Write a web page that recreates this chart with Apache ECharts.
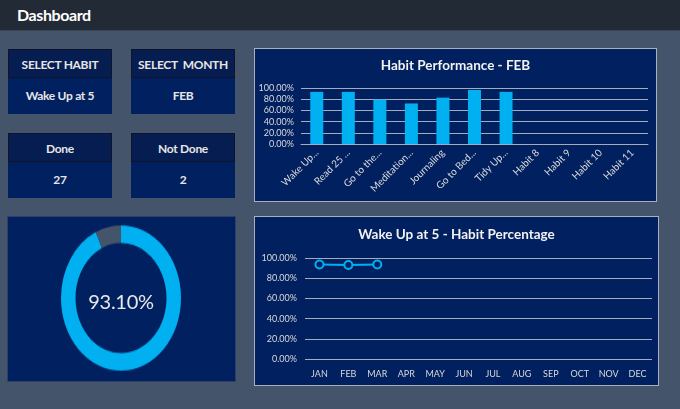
<!DOCTYPE html>
<html><head><meta charset="utf-8">
<script src="https://cdn.jsdelivr.net/npm/echarts@6/dist/echarts.min.js"></script>
<style>
html,body{margin:0;padding:0;width:680px;height:409px;overflow:hidden;background:#44546A;font-family:Lato,"Open Sans",sans-serif;}
#top{position:absolute;left:0;top:0;width:680px;height:30px;background:#222A35;border-bottom:1px solid #3a4556;}
#top span{position:absolute;left:17px;top:5px;color:#fff;font-weight:bold;font-size:16px;letter-spacing:-0.4px;}
.box{position:absolute;width:104px;background:#002060;}
.box .h{height:29px;line-height:29px;background:#061D52;border:1px solid #10142a;text-align:center;color:#E6E6E6;font-weight:bold;font-size:12px;letter-spacing:-0.3px;box-sizing:border-box;}
.box .v{height:36px;line-height:36px;text-align:center;color:#E6E6E6;font-weight:bold;font-size:12px;letter-spacing:-0.3px;}
.panel{position:absolute;background:#002060;box-sizing:border-box;}
</style></head><body>
<div id="top"><span>Dashboard</span></div>
<div class="box" style="left:8px;top:49px;"><div class="h">SELECT HABIT</div><div class="v" id="vHabit"></div></div>
<div class="box" style="left:131px;top:49px;"><div class="h">SELECT &nbsp;MONTH</div><div class="v" id="vMonth"></div></div>
<div class="box" style="left:8px;top:133px;"><div class="h">Done</div><div class="v" id="vDone"></div></div>
<div class="box" style="left:131px;top:133px;"><div class="h">Not Done</div><div class="v" id="vNot"></div></div>
<div class="panel" style="left:7px;top:216px;width:229px;height:166px;border:1px solid #2f3f66;"></div>
<div id="donut" style="position:absolute;left:46px;top:223px;width:150px;height:150px;transform:scaleY(1.21);transform-origin:50% 50%;"></div>
<div id="pct" style="position:absolute;left:46px;top:286px;width:150px;text-align:center;color:#E8E8E8;font-size:20px;line-height:30px;letter-spacing:-0.3px;"></div>
<div class="panel" style="left:254px;top:48px;width:403px;height:154px;border:1px solid #A8B0BE;"><div id="bar" style="width:401px;height:152px;"></div></div>
<div class="panel" style="left:254px;top:216px;width:405px;height:170px;border:1px solid #A8B0BE;"><div id="line" style="width:403px;height:168px;"></div></div>
<script>
const selectedHabit = "Wake Up at 5";
const selectedMonth = "FEB";
const doneCount = 27;
const notDoneCount = 2;
const habitNames = ["Wake Up...", "Read 25 ...", "Go to the...", "Meditation...", "Journaling", "Go to Bed...", "Tidy Up...", "Habit 8", "Habit 9", "Habit 10", "Habit 11"];
const habitPerf = [0.9310, 0.9310, 0.7931, 0.7241, 0.8276, 0.9655, 0.9310, null, null, null, null];
const months = ["JAN","FEB","MAR","APR","MAY","JUN","JUL","AUG","SEP","OCT","NOV","DEC"];
const monthPerf = [0.9355, 0.9310, 0.9355, null, null, null, null, null, null, null, null, null];
const yTicks = [0, 0.2, 0.4, 0.6, 0.8, 1.0];

document.getElementById('vHabit').textContent = selectedHabit;
document.getElementById('vMonth').textContent = selectedMonth;
document.getElementById('vDone').textContent = doneCount;
document.getElementById('vNot').textContent = notDoneCount;
const pctVal = doneCount / (doneCount + notDoneCount);
document.getElementById('pct').textContent = (pctVal * 100).toFixed(2) + '%';

const FONT = 'Lato';
const pctFmt = v => (v * 100).toFixed(2) + '%';
const gridColor = '#A3ABBD';
const labelColor = '#D9D9D9';

const donut = echarts.init(document.getElementById('donut'));
donut.setOption({
  animation: false,
  series: [{
    type: 'pie', radius: [45.5, 60], center: ['50%', '50%'], startAngle: 90, clockwise: true,
    label: {show: false}, labelLine: {show: false}, silent: true,
    data: [
      {value: doneCount, itemStyle: {color: '#00B0F0'}},
      {value: notDoneCount, itemStyle: {color: '#44546A'}}
    ]
  }]
});

const bar = echarts.init(document.getElementById('bar'));
bar.setOption({
  animation: false,
  title: {text: 'Habit Performance - ' + selectedMonth, left: 'center', top: 5,
    textStyle: {color: '#F2F2F2', fontFamily: FONT, fontSize: 13.5, fontWeight: 'bold'}},
  grid: {left: 46, right: 8, top: 39, bottom: 57},
  xAxis: {type: 'category', data: habitNames,
    axisLine: {lineStyle: {color: gridColor}}, axisTick: {show: false},
    axisLabel: {color: labelColor, fontFamily: FONT, fontSize: 10, rotate: 45, interval: 0, margin: 7}},
  yAxis: {type: 'value', min: 0, max: 1, interval: 0.2,
    axisLine: {show: false}, axisTick: {show: false},
    splitLine: {lineStyle: {color: gridColor, width: 1}},
    axisLabel: {color: labelColor, fontFamily: FONT, fontSize: 9, formatter: pctFmt, margin: 7}},
  series: [{type: 'bar', data: habitPerf, barWidth: 13, itemStyle: {color: '#00B0F0'}}]
});

const line = echarts.init(document.getElementById('line'));
line.setOption({
  animation: false,
  title: {text: selectedHabit + ' - Habit Percentage', left: 'center', top: 6,
    textStyle: {color: '#F2F2F2', fontFamily: FONT, fontSize: 13.5, fontWeight: 'bold'}},
  grid: {left: 50, right: 6, top: 41, bottom: 26},
  xAxis: {type: 'category', data: months,
    axisLine: {show: false}, axisTick: {show: false},
    axisLabel: {color: labelColor, fontFamily: FONT, fontSize: 9, interval: 0, margin: 11}},
  yAxis: {type: 'value', min: 0, max: 1, interval: 0.2,
    axisLine: {show: false}, axisTick: {show: false},
    splitLine: {lineStyle: {color: gridColor, width: 1}},
    axisLabel: {color: labelColor, fontFamily: FONT, fontSize: 9, formatter: pctFmt, margin: 8}},
  series: [{type: 'line', data: monthPerf, symbol: 'circle', symbolSize: 8,
    lineStyle: {color: '#00B0F0', width: 2},
    itemStyle: {color: '#002060', borderColor: '#00B0F0', borderWidth: 2}}]
});
</script>
</body></html>
